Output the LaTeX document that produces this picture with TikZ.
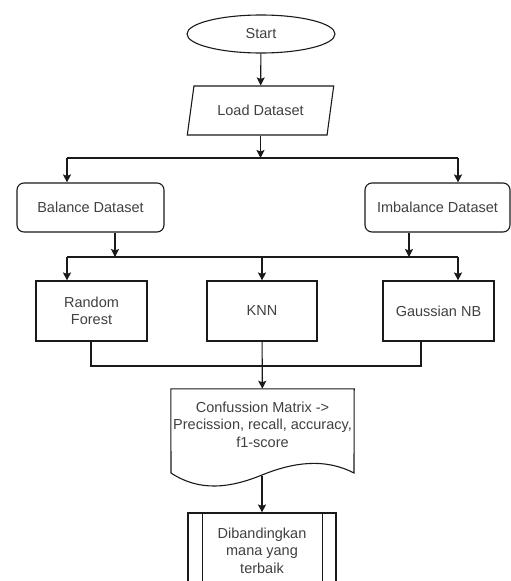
\documentclass[tikz,border=0pt]{standalone}
\usepackage{fontspec}
\setmainfont{Liberation Sans}
\usetikzlibrary{shapes.geometric,arrows.meta}
\definecolor{lineC}{HTML}{1A1A1A}
\definecolor{textC}{HTML}{404040}
\begin{document}
\begin{tikzpicture}[x=1pt,y=-1pt,
  every node/.style={font=\fontsize{14.5}{17.5}\selectfont, text=textC, align=center, inner sep=0pt},
  shp/.style={draw=lineC, line width=1.1pt},
  ln/.style={draw=lineC, line width=1.1pt},
  arr/.style={draw=lineC, line width=1.1pt, -{Stealth[length=8pt,width=8pt,inset=1.5pt]}}]
\path[use as bounding box, clip] (0,0) rectangle (511,581);
\fill[white] (0,0) rectangle (511,581);
% nodes
\node[shp, ellipse, minimum width=148pt, minimum height=38pt] (start) at (261,34) {Start};
\node[shp, trapezium, trapezium stretches=true, trapezium left angle=68, trapezium right angle=112,
      minimum width=147pt, minimum height=49pt] (load) at (260.5,110.5) {Load Dataset};
\node[shp, rounded corners=7pt, minimum width=147pt, minimum height=49pt] (bal) at (90.5,207.5) {Balance Dataset};
\node[shp, rounded corners=7pt, minimum width=145pt, minimum height=49pt] (imb) at (437.5,207.5) {Imbalance Dataset};
\node[shp, minimum width=111pt, minimum height=60pt] (rf) at (91.5,311) {Random\\Forest};
\node[shp, minimum width=110pt, minimum height=60pt] (knn) at (262,311) {KNN};
\node[shp, minimum width=111pt, minimum height=60pt] (gnb) at (438.5,311) {Gaussian NB};
% document shape
\node[minimum width=183pt, minimum height=86pt] (doc) at (262.5,432) {};
\draw[ln] (171,473) -- (doc.north west) -- (doc.north east) -- (354,473)
  .. controls (325,458) and (294,462) .. (262,475)
  .. controls (230,488) and (200,492) .. (171,473) -- cycle;
\node (doctext) at (262.5,424.5) {Confussion Matrix ->\\Precission, recall, accuracy,\\f1-score};
\coordinate (docb) at (262,475.5);
% predefined process
\node[shp, minimum width=148pt, minimum height=75pt] (cmp) at (262,550.5) {Dibandingkan\\mana yang\\terbaik};
\draw[ln] ([xshift=15pt]cmp.north west) -- ([xshift=15pt]cmp.south west);
\draw[ln] ([xshift=-14pt]cmp.north east) -- ([xshift=-14pt]cmp.south east);
% junction coordinates
\coordinate (j1) at (261,158);
\coordinate (bL) at (67,158);
\coordinate (bR) at (458,158);
\coordinate (c1) at (115,257);
\coordinate (c2) at (409,257);
\coordinate (dL) at (67,257);
\coordinate (dM) at (262,257);
\coordinate (dR) at (458,257);
\coordinate (e1) at (91,366);
\coordinate (e2) at (421,366);
% connectors
\draw[arr] (start) -- (load);
\draw[arr] (load.south) -- (load.south |- j1);
\draw[ln] (bL) -- (bR);
\draw[arr] (bL) -- (bL |- bal.north);
\draw[arr] (bR) -- (bR |- imb.north);
\draw[arr] (bal.south -| c1) -- (c1);
\draw[arr] (imb.south -| c2) -- (c2);
\draw[ln] (dL) -- (dR);
\draw[arr] (dL) -- (dL |- rf.north);
\draw[arr] (dM) -- (knn);
\draw[arr] (dR) -- (dR |- gnb.north);
\draw[ln] (rf.south -| e1) -- (e1) -- (e2) -- (gnb.south -| e2);
\draw[arr] (knn) -- (doc);
\draw[arr] (docb) -- (cmp);
\end{tikzpicture}
\end{document}
